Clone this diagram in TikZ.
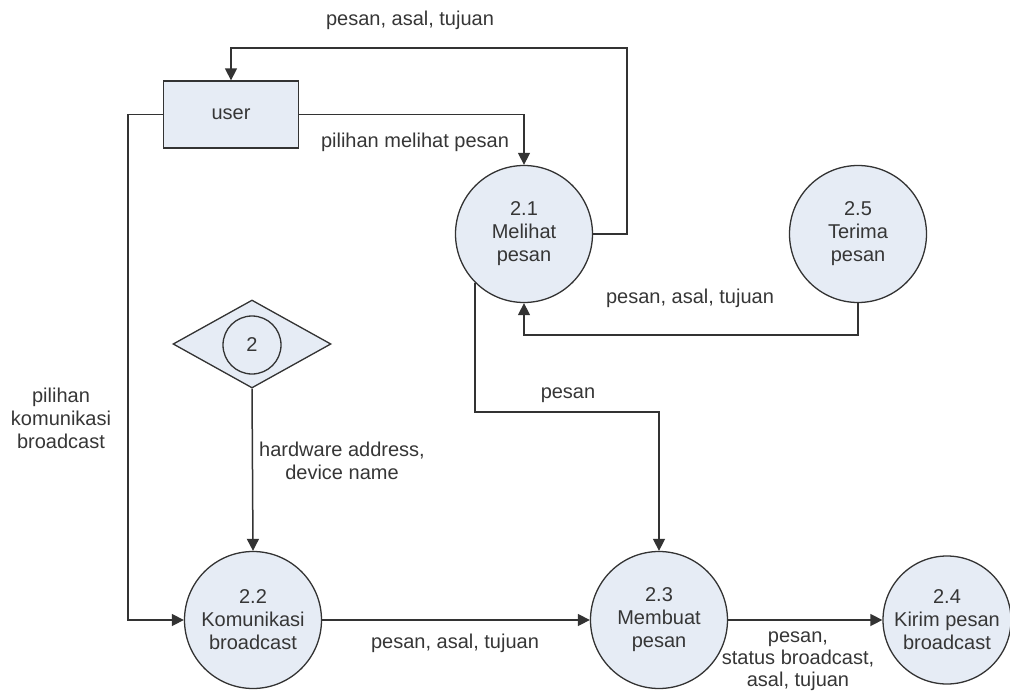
\documentclass[tikz,border=0pt]{standalone}
\usepackage{fontspec}
\setmainfont{Liberation Sans}
\usetikzlibrary{arrows.meta,shapes.geometric}
\definecolor{procfill}{HTML}{E6ECF5}
\definecolor{linecol}{HTML}{333333}
\definecolor{txtcol}{HTML}{363636}
\begin{document}
\begin{tikzpicture}[x=1pt,y=-1pt,
  every node/.style={font=\fontsize{20}{23}\selectfont, text=txtcol},
  proc/.style={circle, draw=linecol, line width=1.3pt, fill=procfill,
    minimum size=137pt, inner sep=0pt, align=center},
  entity/.style={rectangle, draw=linecol, line width=1.3pt, fill=procfill,
    minimum width=135pt, minimum height=67pt, inner sep=0pt},
  store/.style={diamond, draw=linecol, line width=1.3pt, fill=procfill,
    minimum width=158pt, minimum height=88pt, inner sep=0pt},
  storeid/.style={circle, draw=linecol, line width=1.3pt,
    minimum size=58pt, inner sep=0pt},
  lbl/.style={align=center, inner sep=0pt},
  flow/.style={draw=linecol, line width=1.5pt,
    -{Triangle[length=12pt,width=12pt]}}]
\useasboundingbox (0,0) rectangle (1010,693);

% external entity and processes
\node[entity] (user) at (231,114.5) {user};
\node[proc] (p21) at (524,234) {2.1\\Melihat\\pesan};
\node[proc] (p25) at (858,234) {2.5\\Terima\\pesan};
\node[proc] (p22) at (253,620) {2.2\\Komunikasi\\broadcast};
\node[proc] (p23) at (659,620) {2.3\\Membuat\\pesan};
\node[proc, minimum size=128pt] (p24) at (947,620) {2.4\\Kirim pesan\\broadcast};

% data store
\node[store] (ds) at (252,344) {};
\node[storeid] (dsc) at (252,345) {2};

% bend points
\coordinate (topright) at (627,48);
\coordinate (leftdown) at (128,620);
\coordinate (below25) at (858,335);
\coordinate (bendpesan) at (659,412);

% data flows
\draw[flow] (p21.east) -| (topright) -| (user.north);
\draw[flow] (user.east) -| (p21.north);
\draw[flow] (user.west) -| (leftdown) -- (p22.west);
\draw[flow] (ds.south) -- (p22.north);
\draw[flow] (p22.east) -- (p23.west);
\draw[flow] (p23.east) -- (p24.west);
\draw[flow] (p25.south) -- (below25) -| (p21.south);
\draw[flow] (p21.south west) |- (bendpesan) -- (p23.north);

% flow labels
\node[lbl] (l1) at (410,20) {pesan, asal, tujuan};
\node[lbl] (l2) at (415,142) {pilihan melihat pesan};
\node[lbl] (l3) at (690,298) {pesan, asal, tujuan};
\node[lbl] (l4) at (568,395) {pesan};
\node[lbl] (l5) at (342,461) {hardware address,\\device name};
\node[lbl] (l6) at (61,418) {pilihan\\komunikasi\\broadcast};
\node[lbl] (l7) at (455,643) {pesan, asal, tujuan};
\node[lbl, font=\fontsize{20}{22}\selectfont] (l8) at (798,661) {pesan,\\status broadcast,\\asal, tujuan};
\end{tikzpicture}
\end{document}
